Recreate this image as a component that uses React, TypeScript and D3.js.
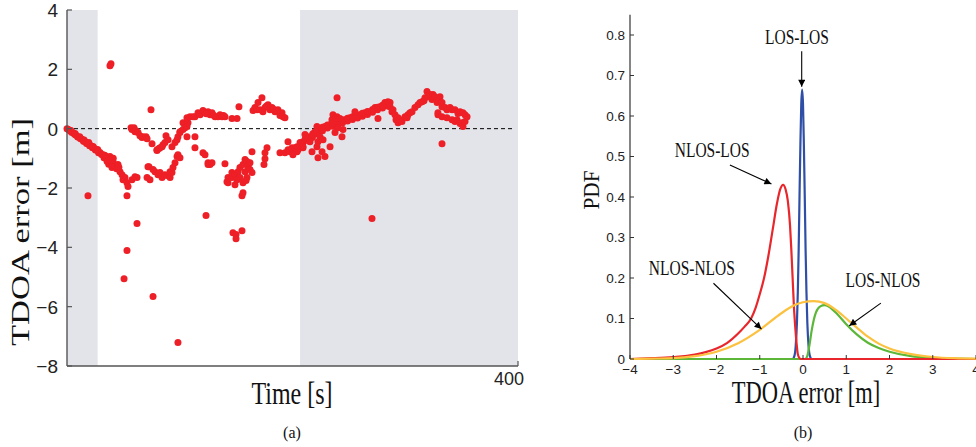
import React from "react";
import * as d3 from "d3";

// ---------- Panel (a): TDOA error over time ----------
const timeTicks = [400];
const errTicks = [4, 2, 0, -2, -4, -6, -8];
const errTickLabels = ["4", "2", "0", "\u22122", "\u22124", "\u22126", "\u22128"];
const losBands: [number, number][] = [[0, 27.2], [206.7, 400]];

// initial drift (t [s], error [m])
const driftPts: [number, number][] = [
  [0, 0], [1.3, -0.03], [2.7, -0.07], [4, -0.12], [5.3, -0.14], [6.7, -0.19], [8, -0.22], [9.5, -0.28], [10.6, -0.29],
  [12, -0.34], [13.3, -0.36], [14.6, -0.42], [16, -0.44], [17.3, -0.5], [18.6, -0.51], [20, -0.58], [21.3, -0.58],
  [22.6, -0.64], [23.9, -0.65], [25.2, -0.72], [26.6, -0.73], [28, -0.81], [29.3, -0.8], [30.6, -0.87], [31.9, -0.88],
  [32.8, -0.98], [34.6, -0.94], [36.4, -1.04], [38.1, -0.94], [37, -1.2], [39.9, -1.31], [40.8, -1.11], [41, -1.0],
  [42.6, -1.28], [45.2, -1.21], [47, -1.45], [48.8, -1.55], [49.7, -1.72], [51.4, -1.65], [53.2, -1.82], [54.1, -1.95],
  [57.6, -1.72], [60.3, -1.62], [62.1, -1.65], [44, -1.35], [46, -1.3], [3.5, -0.06], [7.2, -0.16], [11.3, -0.27],
  [15.2, -0.38], [19.3, -0.47], [23.2, -0.6], [27.2, -0.7], [33.5, -0.9], [35.5, -1.1], [38.8, -1.05]
];

// second trajectory (upper branch)
const upperPts: [number, number][] = [
  [56.8, 0.03], [57.6, -0.03], [59.4, 0.03], [60.3, -0.1], [61.2, -0.07], [63, -0.13], [64.7, -0.24], [66.5, -0.3],
  [67.4, -0.27], [70.1, -0.27], [71, -0.34], [75.4, -0.51], [79.8, -0.74], [79.8, -0.71], [81.6, -0.67], [82.5, -0.64],
  [84.3, -0.61], [85.1, -0.54], [86.9, -0.47], [87.8, -0.24], [89.6, -0.37], [93.1, -0.61], [95.8, -0.47], [97.6, -0.37],
  [98.4, -0.27], [100.2, -0.13], [100.2, -0.1], [102.9, -0.03], [102.9, 0.2], [104.7, 0.03], [104.7, 0.13], [106.4, 0.07],
  [107.3, 0.2], [106.4, 0.37], [109.1, 0.4], [111.8, 0.4], [113.5, 0.4], [116.2, 0.54], [118, 0.47], [120.6, 0.61],
  [122.4, 0.54], [125.1, 0.57], [126.9, 0.47], [128.6, 0.54], [131.3, 0.4], [133.9, 0.4], [135.7, 0.47], [137.5, 0.4],
  [140.1, 0.4], [146.3, 0.34], [150.8, 0.34], [123.5, 0.5], [130, 0.45], [138.8, 0.44]
];

// second trajectory (lower branch)
const lowerPts: [number, number][] = [
  [71, -1.65], [71.8, -1.28], [72.7, -1.28], [73.6, -1.72], [76.3, -1.38], [78, -1.45], [80.7, -1.55], [82.5, -1.48],
  [84.3, -1.65], [86.9, -1.55], [88.7, -1.58], [91.4, -1.65], [91.4, -1.45], [93.1, -1.48], [94, -1.31], [95.8, -1.15],
  [97.6, -0.94], [98.4, -0.88], [100.2, -0.98], [106.4, -0.27], [113.5, -0.27], [113.5, -0.64], [120.6, -0.81],
  [122.4, -0.88], [125.1, -1.15], [125.1, -1.21], [126.9, -1.21], [128.6, -1.15], [140.1, -1.18],
  [141.9, -1.79], [142.8, -1.65], [142.8, -1.82], [146.3, -1.48], [146.3, -1.65], [149, -1.55], [149, -1.89],
  [150.8, -1.72], [151.7, -1.45], [153.4, -1.31], [153.4, -1.65], [156.1, -1.21], [156.1, -1.82], [157.9, -1.45],
  [157.9, -1.04], [159.6, -1.11], [159.6, -1.65], [160.5, -1.28], [162.3, -1.38], [162.3, -1.15], [164.1, -1.48],
  [164.1, -0.78], [175.6, -0.81], [175.6, -1.01], [174.7, -1.21], [177.4, -0.64]
];

// cluster before the second LOS period
const humpPts: [number, number][] = [
  [165, 0.61], [166.7, 0.71], [168.5, 0.64], [169.4, 0.88], [171.2, 0.64], [172.9, 1.04], [173.8, 0.57], [175.6, 0.71],
  [178.3, 0.81], [180, 0.64], [181.8, 0.71], [184.5, 0.57], [187.1, 0.64], [188.9, 0.44], [190.7, 0.54], [191.6, 0.4],
  [193.3, 0.37], [188.9, -0.81], [193.3, -0.81], [196, -0.71], [196, -0.44], [197.8, -0.78], [199.6, -0.64],
  [202.2, -0.71], [204, -0.61], [204.9, -0.71], [208.4, -0.47], [209.3, -0.64], [211.1, -0.37], [213.7, -0.3],
  [176.9, 0.76], [183, 0.66], [186, 0.6]
];

// rising band during the second LOS period
const bandPts: [number, number][] = [
  [202.2, -0.64], [206.7, -0.47], [211.1, -0.37], [215.5, -0.27], [220, -0.13], [224.4, -0.03], [228.8, 0.07],
  [233.3, 0.13], [237.7, 0.2], [242.1, 0.24], [246.6, 0.3], [251, 0.37], [255.4, 0.4], [259.9, 0.47], [264.3, 0.54],
  [268.7, 0.57], [273.2, 0.71], [277.6, 0.74], [282, 0.81], [286.5, 0.88],
  [204.5, -0.66], [209, -0.52], [213.3, -0.4], [217.7, -0.3], [222.2, -0.18], [226.6, -0.07], [231, 0.02],
  [235.5, 0.08], [240, 0.14], [244.4, 0.2], [248.8, 0.26], [253.2, 0.31], [257.7, 0.36], [262, 0.42], [266.5, 0.48],
  [271, 0.55], [275.4, 0.64], [279.8, 0.7], [284.3, 0.76],
  [213, -0.28], [218, -0.17], [226.5, 0.05], [231, 0.12], [235.5, 0.17], [240, 0.24], [244.4, 0.29], [248.8, 0.35],
  [253.2, 0.4], [257.7, 0.45], [262, 0.52], [266.5, 0.58], [271, 0.65], [275.4, 0.72], [279.8, 0.79],
  [255.4, 0.57], [275.8, 0.34], [235.9, 0.47], [239.5, 0.4], [235, 0.3], [221.7, 0.07], [220, -0.1], [224.4, -0.27],
  [222.6, -0.44], [227.1, -0.37], [233.3, -0.61], [243.9, -0.27], [221.7, -0.61], [222.6, -0.98], [228.8, -0.94],
  [226.2, -0.78], [215.5, -0.44], [209.3, -0.61], [204, -0.78], [200.4, -0.88], [217.3, -0.78], [237.7, -0.13],
  [244.8, -0.03], [240.4, 0.03], [211.1, -0.2], [238.6, 0.34], [242.1, 0.34]
];

// last part of the run
const tailPts: [number, number][] = [
  [282, 0.88], [284.7, 0.91], [286.5, 0.74], [288.2, 0.57], [289.1, 0.64], [290.9, 0.47], [291.8, 0.3], [293.6, 0.37],
  [293.6, 0.2], [295.3, 0.3], [297.1, 0.24], [299.8, 0.4], [301.6, 0.37], [302.4, 0.47], [304.2, 0.54], [306, 0.57],
  [308.6, 0.71], [311.3, 0.81], [313.1, 0.88], [314.9, 0.91], [316.6, 0.94], [317.5, 1.04], [319.3, 1.25],
  [320.2, 1.08], [321.9, 1.15], [323.7, 0.98], [324.6, 1.15], [326.4, 1.08], [328.2, 0.88], [329, 0.47], [329, 0.54],
  [330.8, 1.08], [332.6, 0.74], [332.6, 0.88], [332.6, 0.4], [335.3, 0.71], [337, 0.37], [337, 0.64], [339.7, 0.71],
  [341.5, 0.3], [341.5, 0.64], [344.1, 0.64], [344.1, 0.24], [345.9, 0.3], [346.8, 0.51], [348.6, 0.57], [348.6, 0.17],
  [350.3, 0.2], [351.2, 0.54], [351.2, 0.07], [353, 0.24], [353, 0.47], [354.8, 0.4]
];

// isolated outliers
const outlierPts: [number, number][] = [
  [18.6, -2.26], [53.2, -2.26], [62.1, -3.2], [53.2, -4.11], [50.6, -5.06], [76.3, -5.66], [98.4, -7.21],
  [123.3, -2.93], [147.2, -3.51], [149.9, -3.57], [149.9, -3.71], [155.2, -3.44], [155.2, -2.26], [156.1, -2.16],
  [158.8, -1.75], [39, 2.19], [38.1, 2.12], [74.5, 0.64], [152.5, 0.74], [332.6, -0.51], [270.5, -3.03], [239.5, 1.04]
];

// ---------- Panel (b): PDFs ----------
const pdfXTicks = [-4, -3, -2, -1, 0, 1, 2, 3, 4];
const pdfXTickLabels = ["\u22124", "\u22123", "\u22122", "\u22121", "0", "1", "2", "3", "4"];
const pdfYTicks = [0, 0.1, 0.2, 0.3, 0.4, 0.5, 0.6, 0.7, 0.8];
const pdfYTickLabels = ["0", "0.1", "0.2", "0.3", "0.4", "0.5", "0.6", "0.7", "0.8"];

const losLos: [number, number][] = [
  [-4, 0], [-0.24, 0], [-0.2, 0.007], [-0.17, 0.03], [-0.14, 0.09], [-0.12, 0.165], [-0.1, 0.27], [-0.08, 0.405],
  [-0.06, 0.53], [-0.04, 0.63], [-0.02, 0.665], [0, 0.63], [0.02, 0.53], [0.04, 0.405], [0.06, 0.27], [0.08, 0.165],
  [0.1, 0.09], [0.13, 0.03], [0.16, 0.007], [0.2, 0], [4, 0]
];
const nlosLos: [number, number][] = [
  [-4, 0], [-3.5, 0.002], [-3, 0.005], [-2.5, 0.011], [-2.25, 0.017], [-2, 0.026], [-1.75, 0.04], [-1.5, 0.063],
  [-1.35, 0.08], [-1.2, 0.1], [-1.1, 0.125], [-1, 0.16], [-0.9, 0.2], [-0.8, 0.255], [-0.7, 0.32], [-0.6, 0.385],
  [-0.53, 0.418], [-0.46, 0.43], [-0.4, 0.418], [-0.35, 0.39], [-0.3, 0.33], [-0.27, 0.27], [-0.24, 0.2],
  [-0.21, 0.13], [-0.18, 0.08], [-0.15, 0.04], [-0.12, 0.012], [-0.08, 0.002], [-0.04, 0], [4, 0]
];
const nlosNlos: [number, number][] = [
  [-4, 0], [-3.5, 0.001], [-3, 0.002], [-2.5, 0.007], [-2, 0.018], [-1.5, 0.039], [-1, 0.072], [-0.5, 0.113],
  [-0.25, 0.13], [0, 0.14], [0.25, 0.143], [0.5, 0.138], [0.75, 0.122], [1, 0.1], [1.25, 0.077], [1.5, 0.055],
  [1.75, 0.038], [2, 0.026], [2.5, 0.012], [3, 0.005], [3.5, 0.002], [4, 0.001]
];
const losNlos: [number, number][] = [
  [-4, 0], [0.05, 0], [0.1, 0.008], [0.15, 0.035], [0.2, 0.07], [0.25, 0.097], [0.3, 0.115], [0.4, 0.13],
  [0.5, 0.133], [0.6, 0.129], [0.8, 0.11], [1, 0.086], [1.25, 0.06], [1.5, 0.04], [1.75, 0.027], [2, 0.018],
  [2.5, 0.007], [3, 0.003], [3.5, 0.001], [4, 0]
];

const SERIF = "'Liberation Serif', 'Times New Roman', serif";
const SANS = "'Liberation Sans', Arial, Helvetica, sans-serif";

export default function App() {
  // scales for panel (a)
  const xL = d3.scaleLinear().domain([0, 400]).range([67, 518]);
  const yL = d3.scaleLinear().domain([-8, 4]).range([366, 10]);
  // scales for panel (b)
  const xR = d3.scaleLinear().domain([-4, 4]).range([630, 976]);
  const yR = d3.scaleLinear().domain([0, 0.8]).range([359, 35]);

  const allPts = [...driftPts, ...upperPts, ...lowerPts, ...humpPts, ...bandPts, ...tailPts, ...outlierPts];

  const line = d3
    .line<[number, number]>()
    .x((d) => xR(d[0]))
    .y((d) => yR(d[1]))
    .curve(d3.curveMonotoneX);

  const curves: { data: [number, number][]; color: string }[] = [
    { data: losLos, color: "#2f4fa6" },
    { data: losNlos, color: "#5cb739" },
    { data: nlosLos, color: "#e8262b" },
    { data: nlosNlos, color: "#fbc13f" },
  ];

  const arrows = [
    { label: "LOS-LOS", lx: -0.14, ly: 0.795, x1: -0.03, y1: 0.76, x2: -0.03, y2: 0.672 },
    { label: "NLOS-LOS", lx: -2.1, ly: 0.516, x1: -1.69, y1: 0.479, x2: -0.73, y2: 0.432 },
    { label: "NLOS-NLOS", lx: -2.57, ly: 0.225, x1: -2.07, y1: 0.187, x2: -0.96, y2: 0.074 },
    { label: "LOS-NLOS", lx: 1.85, ly: 0.193, x1: 1.8, y1: 0.138, x2: 1.07, y2: 0.082 },
  ];

  const axisColor = "#555";
  const annFs = 15.5;
  const annStretch = 1.3;

  return (
    <div style={{ position: "absolute", left: 0, top: 0 }}>
      <svg width={976} height={447} style={{ display: "block", background: "#fff" }}>
        <defs>
          <marker id="ah" viewBox="0 0 10 10" refX="10" refY="5" markerWidth="9" markerHeight="7" orient="auto" markerUnits="userSpaceOnUse">
            <path d="M0,0 L10,5 L0,10 z" fill="#000" />
          </marker>
        </defs>

        {/* ---------- Panel (a) ---------- */}
        {losBands.map((b, i) => (
          <rect key={i} x={xL(b[0])} y={yL(4)} width={xL(b[1]) - xL(b[0])} height={yL(-8) - yL(4)} fill="#e3e4ea" />
        ))}
        <line x1={xL(0)} x2={xL(395)} y1={yL(0)} y2={yL(0)} stroke="#000" strokeWidth={1} strokeDasharray="4 3" />
        {allPts.map((p, i) => (
          <circle key={i} cx={xL(p[0])} cy={yL(p[1])} r={3.5} fill="#ee1f26" />
        ))}
        <line x1={xL(0)} x2={xL(0)} y1={yL(4)} y2={yL(-8)} stroke={axisColor} strokeWidth={1.4} />
        <line x1={xL(0)} x2={xL(400)} y1={yL(-8)} y2={yL(-8)} stroke={axisColor} strokeWidth={1.4} />
        {errTicks.map((v, i) => (
          <g key={i}>
            <line x1={xL(0)} x2={xL(0) + 5} y1={yL(v)} y2={yL(v)} stroke={axisColor} strokeWidth={1.2} />
            <text x={58} y={yL(v)} dy="0.36em" textAnchor="end" fontFamily={SANS} fontSize={19} fill="#222">
              {errTickLabels[i]}
            </text>
          </g>
        ))}
        {timeTicks.map((v, i) => (
          <g key={i}>
            <line x1={xL(v)} x2={xL(v)} y1={yL(-8)} y2={yL(-8) - 5} stroke={axisColor} strokeWidth={1.2} />
            <text x={xL(v) + 6} y={385} textAnchor="end" fontFamily={SANS} fontSize={18} fill="#222">
              {String(v)}
            </text>
          </g>
        ))}
        <text transform="translate(292,404) scale(1,1.35)" textAnchor="middle" fontFamily={SERIF} fontSize={24} fill="#111">
          Time [s]
        </text>
        <text
          transform="translate(29,232) rotate(-90)"
          textAnchor="middle"
          fontFamily={SERIF}
          fontSize={25}
          textLength={228}
          lengthAdjust="spacingAndGlyphs"
          fill="#111"
        >
          TDOA error [m]
        </text>
        <text x={292} y={438} textAnchor="middle" fontFamily={SERIF} fontSize={16} fill="#111">
          (a)
        </text>

        {/* ---------- Panel (b) ---------- */}
        {curves.map((c, i) => (
          <path key={i} d={line(c.data) || ""} fill="none" stroke={c.color} strokeWidth={2.2} strokeLinejoin="round" />
        ))}
        <line x1={xR(-4)} x2={xR(-4)} y1={yR(0.85)} y2={yR(0)} stroke="#333" strokeWidth={1.2} />
        {pdfYTicks.map((v, i) => (
          <g key={i}>
            <line x1={xR(-4)} x2={xR(-4) + 4} y1={yR(v)} y2={yR(v)} stroke="#333" strokeWidth={1} />
            <text x={625} y={yR(v)} dy="0.36em" textAnchor="end" fontFamily={SANS} fontSize={13.5} fill="#222">
              {pdfYTickLabels[i]}
            </text>
          </g>
        ))}
        {pdfXTicks.map((v, i) => (
          <g key={i}>
            <line x1={xR(v)} x2={xR(v)} y1={yR(0)} y2={yR(0) - 4} stroke="#333" strokeWidth={1} />
            <text x={xR(v)} y={373.5} textAnchor="middle" fontFamily={SANS} fontSize={13.5} fill="#222">
              {pdfXTickLabels[i]}
            </text>
          </g>
        ))}
        {arrows.map((a, i) => (
          <g key={i}>
            <line x1={xR(a.x1)} y1={yR(a.y1)} x2={xR(a.x2)} y2={yR(a.y2)} stroke="#000" strokeWidth={1.1} markerEnd="url(#ah)" />
            <text
              transform={`translate(${xR(a.lx)},${yR(a.ly) + 0.33 * annFs * annStretch}) scale(1,${annStretch})`}
              textAnchor="middle"
              fontFamily={SERIF}
              fontSize={annFs}
              fill="#111"
            >
              {a.label}
            </text>
          </g>
        ))}
        <text transform="translate(806,403) scale(1,1.4)" textAnchor="middle" fontFamily={SERIF} fontSize={22.5} fill="#111">
          TDOA error [m]
        </text>
        <text
          transform="translate(599,190) rotate(-90)"
          textAnchor="middle"
          fontFamily={SERIF}
          fontSize={24}
          textLength={39}
          lengthAdjust="spacingAndGlyphs"
          fill="#111"
        >
          PDF
        </text>
        <text x={803} y={438} textAnchor="middle" fontFamily={SERIF} fontSize={16} fill="#111">
          (b)
        </text>
      </svg>
    </div>
  );
}
